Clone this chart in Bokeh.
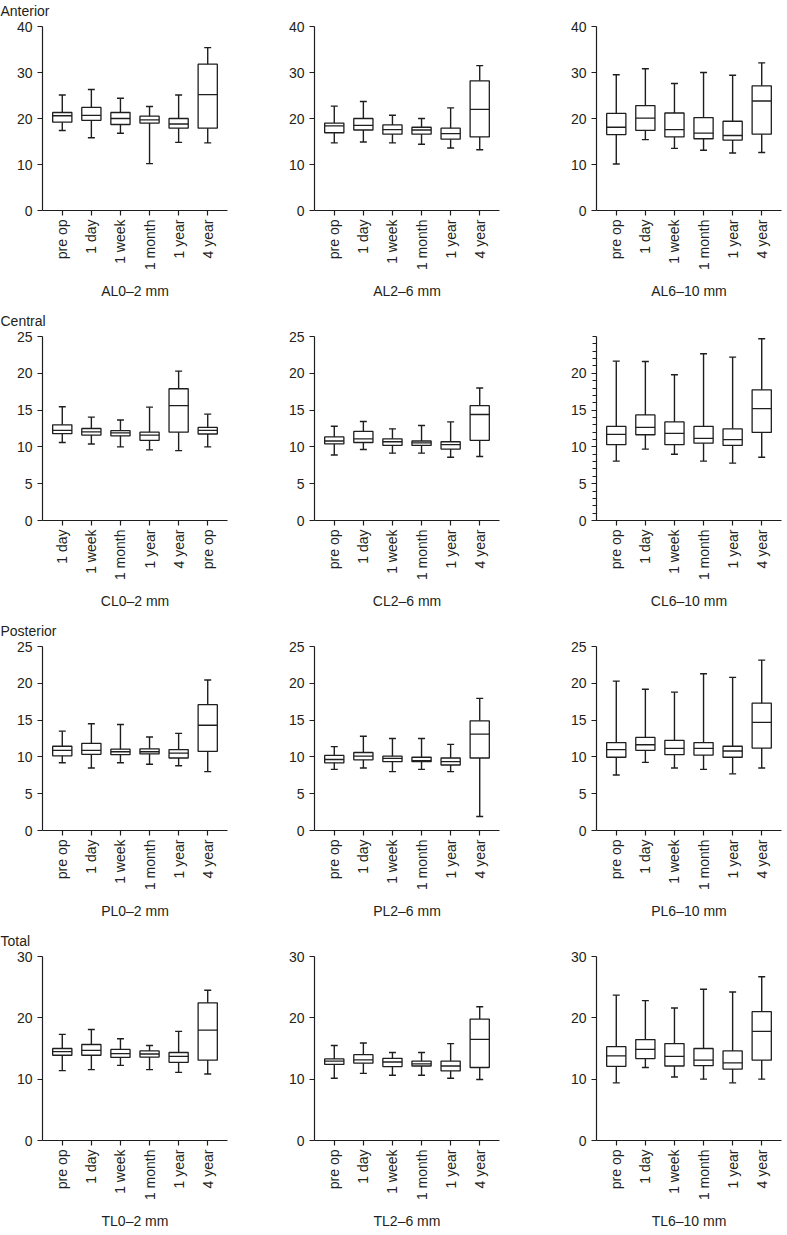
import math
from bokeh.plotting import figure
from bokeh.layouts import gridplot
from bokeh.models import ColumnDataSource, FactorRange, Range1d, FixedTicker, Title
from bokeh.transform import dodge
from bokeh.embed import file_html
from bokeh.resources import INLINE

TIMES = ["pre op", "1 day", "1 week", "1 month", "1 year", "4 year"]
TIMES_CL02 = ["1 day", "1 week", "1 month", "1 year", "4 year", "pre op"]

# ---- Anterior ----
AL02_lo = [17.4, 15.8, 16.8, 10.2, 14.8, 14.7]
AL02_q1 = [19.2, 19.6, 18.7, 19.0, 17.9, 17.9]
AL02_med = [20.6, 20.7, 20.0, 19.7, 18.8, 25.2]
AL02_q3 = [21.3, 22.4, 21.3, 20.5, 20.0, 31.8]
AL02_hi = [25.1, 26.3, 24.4, 22.6, 25.1, 35.4]

AL26_lo = [14.7, 14.9, 14.7, 14.4, 13.6, 13.2]
AL26_q1 = [16.9, 17.5, 16.6, 16.6, 15.5, 16.0]
AL26_med = [18.4, 18.5, 17.6, 17.5, 16.7, 22.0]
AL26_q3 = [19.0, 20.0, 18.6, 18.1, 17.9, 28.2]
AL26_hi = [22.7, 23.7, 20.7, 20.0, 22.3, 31.5]

AL610_lo = [10.1, 15.4, 13.5, 13.1, 12.5, 12.6]
AL610_q1 = [16.5, 17.4, 16.0, 15.6, 15.3, 16.6]
AL610_med = [18.1, 20.1, 17.6, 16.8, 16.3, 23.8]
AL610_q3 = [21.1, 22.8, 21.2, 20.2, 19.4, 27.1]
AL610_hi = [29.5, 30.8, 27.6, 30.0, 29.4, 32.1]

# ---- Central (CL0-2 uses TIMES_CL02 order) ----
CL02_lo = [10.6, 10.4, 10.0, 9.6, 9.5, 10.0]
CL02_q1 = [11.8, 11.6, 11.5, 10.9, 12.0, 11.75]
CL02_med = [12.25, 12.05, 11.9, 11.6, 15.6, 12.25]
CL02_q3 = [13.0, 12.5, 12.2, 12.0, 17.9, 12.65]
CL02_hi = [15.45, 14.05, 13.65, 15.4, 20.3, 14.45]

CL26_lo = [8.9, 9.65, 9.15, 9.15, 8.6, 8.7]
CL26_q1 = [10.4, 10.6, 10.2, 10.2, 9.7, 10.9]
CL26_med = [10.8, 11.1, 10.7, 10.55, 10.3, 14.4]
CL26_q3 = [11.35, 12.1, 11.1, 10.8, 10.7, 15.6]
CL26_hi = [12.8, 13.45, 12.45, 12.9, 13.4, 18.0]

CL610_lo = [8.07, 9.7, 9.0, 8.07, 7.8, 8.6]
CL610_q1 = [10.3, 11.65, 10.3, 10.5, 10.2, 11.97]
CL610_med = [11.7, 12.65, 11.85, 11.15, 11.0, 15.2]
CL610_q3 = [12.8, 14.35, 13.4, 12.8, 12.45, 17.75]
CL610_hi = [21.65, 21.6, 19.8, 22.65, 22.2, 24.7]

# ---- Posterior ----
PL02_lo = [9.2, 8.5, 9.2, 9.0, 8.8, 8.0]
PL02_q1 = [10.15, 10.35, 10.3, 10.4, 9.85, 10.75]
PL02_med = [10.9, 10.9, 10.7, 10.7, 10.5, 14.3]
PL02_q3 = [11.45, 11.85, 11.05, 11.1, 11.0, 17.1]
PL02_hi = [13.5, 14.5, 14.4, 12.7, 13.2, 20.45]

PL26_lo = [8.3, 8.5, 8.0, 8.3, 8.0, 1.9]
PL26_q1 = [9.2, 9.6, 9.35, 9.35, 8.9, 9.85]
PL26_med = [9.65, 10.1, 9.8, 9.5, 9.35, 13.1]
PL26_q3 = [10.2, 10.6, 10.1, 9.95, 9.85, 14.9]
PL26_hi = [11.4, 12.8, 12.5, 12.5, 11.7, 17.95]

PL610_lo = [7.55, 9.25, 8.5, 8.3, 7.7, 8.5]
PL610_q1 = [9.95, 10.9, 10.3, 10.25, 9.95, 11.2]
PL610_med = [11.0, 11.65, 11.15, 11.15, 10.8, 14.7]
PL610_q3 = [11.95, 12.65, 12.25, 11.95, 11.45, 17.3]
PL610_hi = [20.3, 19.2, 18.8, 21.3, 20.8, 23.15]

# ---- Total ----
TL02_lo = [11.4, 11.55, 12.25, 11.55, 11.1, 10.85]
TL02_q1 = [13.9, 13.9, 13.55, 13.6, 12.75, 13.1]
TL02_med = [14.5, 14.7, 14.15, 14.1, 13.7, 18.0]
TL02_q3 = [15.0, 15.65, 14.85, 14.6, 14.35, 22.45]
TL02_hi = [17.3, 18.1, 16.6, 15.5, 17.8, 24.5]

TL26_lo = [10.15, 10.95, 10.65, 10.65, 10.15, 9.95]
TL26_q1 = [12.4, 12.6, 12.05, 12.15, 11.35, 11.9]
TL26_med = [12.95, 13.15, 12.8, 12.5, 12.15, 16.5]
TL26_q3 = [13.3, 14.0, 13.4, 12.95, 12.95, 19.8]
TL26_hi = [15.5, 15.9, 14.35, 14.35, 15.8, 21.8]

TL610_lo = [9.4, 11.9, 10.35, 10.0, 9.4, 10.0]
TL610_q1 = [12.1, 13.35, 12.15, 12.2, 11.65, 13.1]
TL610_med = [13.8, 14.85, 13.7, 13.1, 12.65, 17.8]
TL610_q3 = [15.3, 16.45, 15.8, 15.0, 14.6, 21.0]
TL610_hi = [23.7, 22.8, 21.6, 24.65, 24.2, 26.7]

SECTIONS = ["Anterior", "Central", "Posterior", "Total"]
Y_MAX = [40, 25, 25, 30]
Y_TICKS = [[0, 10, 20, 30, 40], [0, 5, 10, 15, 20, 25], [0, 5, 10, 15, 20, 25], [0, 10, 20, 30]]
CL610_TICKS = [0, 5, 10, 15, 20]
CL610_MINOR = list(range(0, 26))

FONT = "Liberation Sans"
TXT = "#231f20"
LINE = "#1e1e1e"

COL_LEFT = [42, 52, 72]
COL_RIGHT = [35, 25, 2]
FRAME_W = 185
FRAME_H = 184
BOTTOM = 100


def panel(row, col, label, cats, lo, q1, med, q3, hi, ticks, minor=None):
    title = SECTIONS[row] if col == 0 else " "
    p = figure(x_range=FactorRange(*cats, range_padding=0.18, range_padding_units="absolute"),
               y_range=Range1d(0, Y_MAX[row]),
               frame_width=FRAME_W, frame_height=FRAME_H,
               min_border_left=COL_LEFT[col], min_border_right=COL_RIGHT[col],
               min_border_top=0, min_border_bottom=BOTTOM,
               output_backend="svg", toolbar_location=None, title=title)
    p.title.align = "left"
    p.title.offset = -COL_LEFT[col]
    p.title.text_font = FONT
    p.title.text_font_size = "14px"
    p.title.text_font_style = "normal"
    p.title.text_color = TXT
    p.title.standoff = 0
    # small spacer between the section label and the plot frame
    p.add_layout(Title(text=" ", text_font_size="6px", standoff=0), "above")
    p.outline_line_color = None
    p.xgrid.grid_line_color = None
    p.ygrid.grid_line_color = None
    p.background_fill_color = "white"
    p.border_fill_color = "white"

    src = ColumnDataSource(dict(cat=cats, lo=lo, q1=q1, med=med, q3=q3, hi=hi))
    # whiskers
    p.segment(x0="cat", x1="cat", y0="lo", y1="hi", source=src, line_color=LINE, line_width=1.4)
    # caps
    for fld in ("lo", "hi"):
        p.segment(x0=dodge("cat", -0.12, range=p.x_range), x1=dodge("cat", 0.12, range=p.x_range),
                  y0=fld, y1=fld, source=src, line_color=LINE, line_width=1.4)
    # boxes
    p.vbar(x="cat", width=0.66, bottom="q1", top="q3", source=src,
           fill_color="white", line_color=LINE, line_width=1.3)
    # medians
    p.segment(x0=dodge("cat", -0.33, range=p.x_range), x1=dodge("cat", 0.33, range=p.x_range),
              y0="med", y1="med", source=src, line_color=LINE, line_width=1.3)

    if minor is not None:
        p.yaxis.ticker = FixedTicker(ticks=ticks, minor_ticks=minor)
        p.yaxis.minor_tick_line_color = LINE
        p.yaxis.minor_tick_in = 0
        p.yaxis.minor_tick_out = 4
    else:
        p.yaxis.ticker = FixedTicker(ticks=ticks)
        p.yaxis.minor_tick_line_color = None
    for ax in (p.xaxis, p.yaxis):
        ax.axis_line_color = LINE
        ax.axis_line_width = 1.2
        ax.major_tick_line_color = LINE
        ax.major_tick_line_width = 1.2
        ax.major_tick_in = 0
        ax.major_tick_out = 5
        ax.major_label_text_font = FONT
        ax.major_label_text_color = TXT
    p.yaxis.major_label_text_font_size = "14px"
    p.yaxis.major_label_standoff = 5
    p.xaxis.major_label_text_font_size = "14px"
    p.xaxis.major_label_orientation = math.pi / 2
    p.xaxis.major_label_standoff = 4
    p.xaxis.axis_label = label
    p.xaxis.axis_label_text_font = FONT
    p.xaxis.axis_label_text_font_size = "14px"
    p.xaxis.axis_label_text_font_style = "normal"
    p.xaxis.axis_label_text_color = TXT
    p.xaxis.axis_label_standoff = 10
    return p


rows = [
    [panel(0, 0, "AL0\u20132 mm", TIMES, AL02_lo, AL02_q1, AL02_med, AL02_q3, AL02_hi, Y_TICKS[0]),
     panel(0, 1, "AL2\u20136 mm", TIMES, AL26_lo, AL26_q1, AL26_med, AL26_q3, AL26_hi, Y_TICKS[0]),
     panel(0, 2, "AL6\u201310 mm", TIMES, AL610_lo, AL610_q1, AL610_med, AL610_q3, AL610_hi, Y_TICKS[0])],
    [panel(1, 0, "CL0\u20132 mm", TIMES_CL02, CL02_lo, CL02_q1, CL02_med, CL02_q3, CL02_hi, Y_TICKS[1]),
     panel(1, 1, "CL2\u20136 mm", TIMES, CL26_lo, CL26_q1, CL26_med, CL26_q3, CL26_hi, Y_TICKS[1]),
     panel(1, 2, "CL6\u201310 mm", TIMES, CL610_lo, CL610_q1, CL610_med, CL610_q3, CL610_hi, CL610_TICKS, CL610_MINOR)],
    [panel(2, 0, "PL0\u20132 mm", TIMES, PL02_lo, PL02_q1, PL02_med, PL02_q3, PL02_hi, Y_TICKS[2]),
     panel(2, 1, "PL2\u20136 mm", TIMES, PL26_lo, PL26_q1, PL26_med, PL26_q3, PL26_hi, Y_TICKS[2]),
     panel(2, 2, "PL6\u201310 mm", TIMES, PL610_lo, PL610_q1, PL610_med, PL610_q3, PL610_hi, Y_TICKS[2])],
    [panel(3, 0, "TL0\u20132 mm", TIMES, TL02_lo, TL02_q1, TL02_med, TL02_q3, TL02_hi, Y_TICKS[3]),
     panel(3, 1, "TL2\u20136 mm", TIMES, TL26_lo, TL26_q1, TL26_med, TL26_q3, TL26_hi, Y_TICKS[3]),
     panel(3, 2, "TL6\u201310 mm", TIMES, TL610_lo, TL610_q1, TL610_med, TL610_q3, TL610_hi, Y_TICKS[3])],
]

grid = gridplot(rows, toolbar_location=None)

with open("out.html", "w") as f:
    f.write(file_html(grid, INLINE))
